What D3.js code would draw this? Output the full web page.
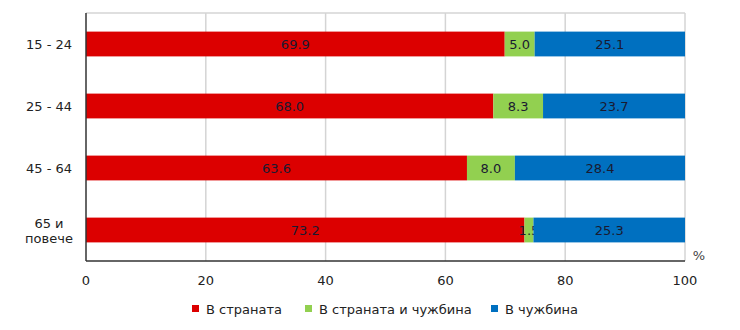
<!DOCTYPE html>
<html><head><meta charset="utf-8">
<script src="https://cdn.jsdelivr.net/npm/d3@7"></script>
<style>body{margin:0;background:#fff;} text{font-family:"DejaVu Sans",Verdana,sans-serif;}</style>
</head><body>
<svg id="c" width="740" height="330"></svg>
<script>
const categories = ["15 - 24", "25 - 44", "45 - 64", "65 и повече"];
const seriesNames = ["В страната", "В страната и чужбина", "В чужбина"];
const inCountry = [69.9, 68.0, 63.6, 73.2];
const both = [5.0, 8.3, 8.0, 1.5];
const abroad = [25.1, 23.7, 28.4, 25.3];
const xTicks = [0, 20, 40, 60, 80, 100];
const colors = ["#dc0000", "#92d050", "#0070c0"];

const svg = d3.select("#c");
const m = {l: 86, r: 685, t: 13, b: 261};
const x = d3.scaleLinear().domain([0, 100]).range([m.l, m.r]);
const y = d3.scaleBand().domain(categories).range([m.t, m.b]).paddingInner(0.6).paddingOuter(0.3);

const rows = categories.map((c, i) => ({cat: c, vals: [inCountry[i], both[i], abroad[i]]}));

// grid
svg.append("g").selectAll("line").data(xTicks.slice(1)).join("line")
  .attr("x1", d => x(d)).attr("x2", d => x(d)).attr("y1", m.t).attr("y2", m.b)
  .attr("stroke", "#d4d4d4").attr("stroke-width", 1.5);
svg.append("line").attr("x1", m.l).attr("x2", m.r).attr("y1", m.t).attr("y2", m.t)
  .attr("stroke", "#d4d4d4").attr("stroke-width", 1.5);

// bars
rows.forEach(r => {
  let acc = 0;
  r.vals.forEach((v, j) => {
    const x0 = acc; acc += v;
    svg.append("rect").attr("x", x(x0)).attr("y", y(r.cat))
      .attr("width", x(acc) - x(x0)).attr("height", y.bandwidth()).attr("fill", colors[j]);
    svg.append("text").attr("x", (x(x0) + x(acc)) / 2).attr("y", y(r.cat) + y.bandwidth() / 2)
      .attr("dy", "0.35em").attr("text-anchor", "middle").attr("font-size", 13)
      .attr("fill", "#1a1a30").text(v.toFixed(1));
  });
});

// axes lines
svg.append("line").attr("x1", m.l).attr("x2", m.l).attr("y1", m.t).attr("y2", m.b)
  .attr("stroke", "#333").attr("stroke-width", 1.5);
svg.append("line").attr("x1", m.l).attr("x2", m.r).attr("y1", m.b).attr("y2", m.b)
  .attr("stroke", "#333").attr("stroke-width", 1.5);

// x tick labels
svg.append("g").selectAll("text").data(xTicks).join("text")
  .attr("x", d => x(d)).attr("y", 280).attr("dy", "0.35em").attr("text-anchor", "middle")
  .attr("font-size", 13).attr("fill", "#222").text(d => d);

svg.append("text").attr("x", 699).attr("y", 255).attr("dy", "0.35em").attr("text-anchor", "middle")
  .attr("font-size", 13).attr("fill", "#444").text("%");

// y labels
categories.forEach(c => {
  const cy = y(c) + y.bandwidth() / 2;
  const words = c === "65 и повече" ? ["65 и", "повече"] : [c];
  const t = svg.append("text").attr("text-anchor", "middle").attr("font-size", 13).attr("fill", "#222");
  if (words.length === 1) {
    t.attr("x", 49).attr("y", cy).attr("dy", "0.35em").text(c);
  } else {
    t.append("tspan").attr("x", 49).attr("y", cy - 7).attr("dy", "0.35em").text(words[0]);
    t.append("tspan").attr("x", 49).attr("y", cy + 8).attr("dy", "0.35em").text(words[1]);
  }
});

// legend
const legX = [192, 305, 491];
seriesNames.forEach((s, i) => {
  svg.append("rect").attr("x", legX[i]).attr("y", 305).attr("width", 7).attr("height", 7).attr("fill", colors[i]);
  svg.append("text").attr("x", legX[i] + 14).attr("y", 309).attr("dy", "0.35em")
    .attr("font-size", 13).attr("fill", "#222").text(s);
});
</script>
</body></html>
